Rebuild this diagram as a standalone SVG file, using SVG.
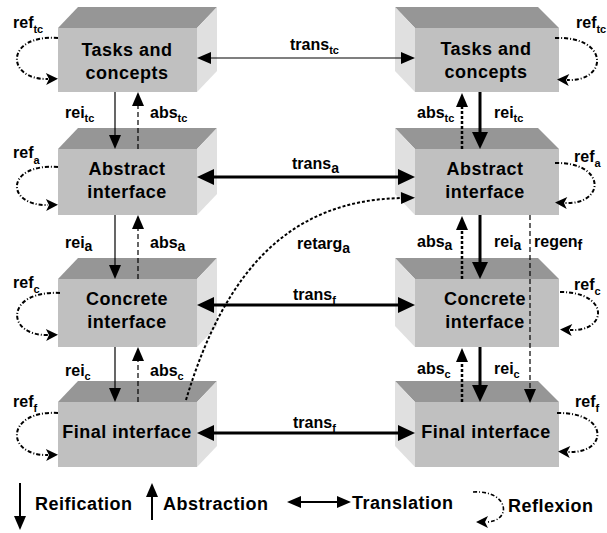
<svg xmlns="http://www.w3.org/2000/svg" width="607" height="533" viewBox="0 0 607 533">
<style>
.front{fill:#c0c0c0}
.top{fill:#969696}
.side{fill:#e0e0e0}
.bt{font-family:"Liberation Sans",Arial,sans-serif;font-weight:bold;font-size:18px;letter-spacing:0.5px;fill:#000;text-anchor:middle}
.lg{font-family:"Liberation Sans",Arial,sans-serif;font-weight:bold;font-size:18px;letter-spacing:0.5px;fill:#000}
.lbl{font-family:"Liberation Sans",Arial,sans-serif;font-weight:bold;font-size:16px;fill:#000}
.sub{font-size:11px}
.subl{font-size:14px}
.thin{fill:none;stroke:#000;stroke-width:1.2}
.thick{fill:none;stroke:#000;stroke-width:3}
.dash{fill:none;stroke:#000;stroke-width:1.2;stroke-dasharray:5,3}
.dot{fill:none;stroke:#000;stroke-width:2.5;stroke-dasharray:3,2}
.loop{fill:none;stroke:#000;stroke-width:2;stroke-dasharray:4,2,1,2}
.lgl{fill:none;stroke:#000;stroke-width:2}
</style>
<defs>
<marker id="ah" markerUnits="userSpaceOnUse" markerWidth="14" markerHeight="12" refX="1" refY="6" orient="auto-start-reverse" overflow="visible"><path d="M0,0 L14,6 L0,12 Z" fill="#000"/></marker>
<marker id="ahb" markerUnits="userSpaceOnUse" markerWidth="17" markerHeight="16" refX="1" refY="8" orient="auto-start-reverse" overflow="visible"><path d="M0,0 L17,8 L0,16 Z" fill="#000"/></marker>
<marker id="ahl" markerUnits="userSpaceOnUse" markerWidth="12" markerHeight="12" refX="2" refY="6" orient="auto" overflow="visible"><path d="M0,0 L12,6 L0,12 L3,6 Z" fill="#000"/></marker>
</defs>

<g id="left-tc">
<path class="top" d="M58,28 L78,7 L217,7 L197,28 Z"/>
<path class="side" d="M197,28 L217,7 L217,71 L197,92 Z"/>
<rect class="front" x="58" y="28" width="139" height="64"/>
<text class="bt" x="127" y="56">Tasks and</text>
<text class="bt" x="127" y="79">concepts</text>
</g>
<g id="right-tc">
<path class="top" d="M415,28 L395,7 L538,7 L559,28 Z"/>
<path class="side" d="M395,7 L415,28 L415,92 L395,71 Z"/>
<rect class="front" x="415" y="28" width="144" height="64"/>
<text class="bt" x="486" y="55">Tasks and</text>
<text class="bt" x="486" y="78">concepts</text>
</g>
<g id="left-a">
<path class="top" d="M58,149 L78,128 L217,128 L197,149 Z"/>
<path class="side" d="M197,149 L217,128 L217,194 L197,215 Z"/>
<rect class="front" x="58" y="149" width="139" height="66"/>
<text class="bt" x="127" y="175">Abstract</text>
<text class="bt" x="127" y="198">interface</text>
</g>
<g id="right-a">
<path class="top" d="M415,149 L395,128 L538,128 L559,149 Z"/>
<path class="side" d="M395,128 L415,149 L415,215 L395,194 Z"/>
<rect class="front" x="415" y="149" width="144" height="66"/>
<text class="bt" x="485" y="175">Abstract</text>
<text class="bt" x="485" y="198">interface</text>
</g>
<g id="left-c">
<path class="top" d="M58,279 L78,258 L217,258 L197,279 Z"/>
<path class="side" d="M197,279 L217,258 L217,326 L197,347 Z"/>
<rect class="front" x="58" y="279" width="139" height="68"/>
<text class="bt" x="127" y="305">Concrete</text>
<text class="bt" x="127" y="328">interface</text>
</g>
<g id="right-c">
<path class="top" d="M415,279 L395,258 L538,258 L559,279 Z"/>
<path class="side" d="M395,258 L415,279 L415,347 L395,326 Z"/>
<rect class="front" x="415" y="279" width="144" height="68"/>
<text class="bt" x="485" y="305">Concrete</text>
<text class="bt" x="485" y="328">interface</text>
</g>
<g id="left-f">
<path class="top" d="M58,402 L78,381 L217,381 L197,402 Z"/>
<path class="side" d="M197,402 L217,381 L217,446 L197,467 Z"/>
<rect class="front" x="58" y="402" width="139" height="65"/>
<text class="bt" x="127" y="438">Final interface</text>
</g>
<g id="right-f">
<path class="top" d="M415,402 L395,381 L538,381 L559,402 Z"/>
<path class="side" d="M395,381 L415,402 L415,467 L395,446 Z"/>
<rect class="front" x="415" y="402" width="144" height="65"/>
<text class="bt" x="486" y="438">Final interface</text>
</g>

<g id="connectors">
<path class="thin" d="M115,92 V136" marker-end="url(#ah)"/>
<path class="dash" d="M138,149 V105" marker-end="url(#ah)"/>
<path class="thin" d="M115,215 V266" marker-end="url(#ah)"/>
<path class="dash" d="M138,279 V228" marker-end="url(#ah)"/>
<path class="thin" d="M115,347 V389" marker-end="url(#ah)"/>
<path class="dash" d="M138,402 V360" marker-end="url(#ah)"/>
<path class="dot" d="M462,149 V106" marker-end="url(#ah)"/>
<path class="thick" d="M480,92 V133" marker-end="url(#ahb)"/>
<path class="dot" d="M462,279 V229" marker-end="url(#ah)"/>
<path class="thick" d="M480,215 V263" marker-end="url(#ahb)"/>
<path class="dot" d="M462,402 V361" marker-end="url(#ah)"/>
<path class="thick" d="M480,347 V386" marker-end="url(#ahb)"/>
<path class="dash" d="M530,215 V390" marker-end="url(#ah)"/>
<path class="thin" d="M210,58 H402" marker-start="url(#ah)" marker-end="url(#ah)"/>
<path class="thick" d="M213,177 H399" marker-start="url(#ahb)" marker-end="url(#ahb)"/>
<path class="thick" d="M213,305 H399" marker-start="url(#ahb)" marker-end="url(#ahb)"/>
<path class="thick" d="M213,433 H399" marker-start="url(#ahb)" marker-end="url(#ahb)"/>
<path class="dot" style="stroke-width:2" d="M186,400 C225,270 290,200 402,198" marker-end="url(#ah)"/>
<path class="loop" d="M58,38 C5,34 5,80 48,79" marker-end="url(#ahl)"/>
<path class="loop" d="M555,38 C610,36 608,82 567,80" marker-end="url(#ahl)"/>
<path class="loop" d="M58,167 C5,163 5,206 48,205" marker-end="url(#ahl)"/>
<path class="loop" d="M555,163 C607,162 605,205 565,203" marker-end="url(#ahl)"/>
<path class="loop" d="M60,293 C5,290 5,336 48,335" marker-end="url(#ahl)"/>
<path class="loop" d="M560,292 C610,292 608,332 570,330" marker-end="url(#ahl)"/>
<path class="loop" d="M58,413 C5,410 5,456 48,455" marker-end="url(#ahl)"/>
<path class="loop" d="M557,413 C610,412 608,454 568,452" marker-end="url(#ahl)"/>
</g>

<g id="labels">
<text class="lbl" x="13" y="28">ref<tspan class="sub" dy="5">tc</tspan></text>
<text class="lbl" x="576" y="28">ref<tspan class="sub" dy="5">tc</tspan></text>
<text class="lbl" x="13" y="158">ref<tspan class="sub" dy="6">a</tspan></text>
<text class="lbl" x="574" y="162">ref<tspan class="sub" dy="5">a</tspan></text>
<text class="lbl" x="13" y="288">ref<tspan class="sub" dy="5">c</tspan></text>
<text class="lbl" x="574" y="290">ref<tspan class="sub" dy="5">c</tspan></text>
<text class="lbl" x="13" y="407">ref<tspan class="sub" dy="5">f</tspan></text>
<text class="lbl" x="575" y="407">ref<tspan class="sub" dy="5">f</tspan></text>

<text class="lbl" x="65" y="118">rei<tspan class="sub" dy="4">tc</tspan></text>
<text class="lbl" x="150" y="118">abs<tspan class="sub" dy="4">tc</tspan></text>
<text class="lbl" x="65" y="248">rei<tspan class="subl" dy="3">a</tspan></text>
<text class="lbl" x="150" y="248">abs<tspan class="subl" dy="3">a</tspan></text>
<text class="lbl" x="65" y="376">rei<tspan class="sub" dy="4">c</tspan></text>
<text class="lbl" x="150" y="376">abs<tspan class="sub" dy="4">c</tspan></text>

<text class="lbl" x="417" y="118">abs<tspan class="sub" dy="4">tc</tspan></text>
<text class="lbl" x="494" y="118">rei<tspan class="sub" dy="4">tc</tspan></text>
<text class="lbl" x="417" y="247">abs<tspan class="subl" dy="3">a</tspan></text>
<text class="lbl" x="494" y="247">rei<tspan class="subl" dy="3">a</tspan></text>
<text class="lbl" x="534" y="247">regen<tspan class="subl" dy="3">f</tspan></text>
<text class="lbl" x="417" y="374">abs<tspan class="sub" dy="4">c</tspan></text>
<text class="lbl" x="494" y="374">rei<tspan class="sub" dy="4">c</tspan></text>

<text class="lbl" x="290" y="50">trans<tspan class="sub" dy="4">tc</tspan></text>
<text class="lbl" x="292" y="169">trans<tspan class="subl" dy="4">a</tspan></text>
<text class="lbl" x="297" y="249">retarg<tspan class="subl" dy="4">a</tspan></text>
<text class="lbl" x="293" y="300">trans<tspan class="sub" dy="4">f</tspan></text>
<text class="lbl" x="293" y="428">trans<tspan class="sub" dy="4">f</tspan></text>
</g>

<g id="legend">
<path class="lgl" d="M20,483 V517" marker-end="url(#ah)"/>
<text class="lg" x="35" y="510">Reification</text>
<path class="lgl" d="M152,520 V496" marker-end="url(#ah)"/>
<text class="lg" x="163" y="510">Abstraction</text>
<path class="lgl" d="M300,502 H338" marker-start="url(#ah)" marker-end="url(#ah)"/>
<text class="lg" x="352" y="509">Translation</text>
<path class="loop" style="stroke-width:1.6" d="M473,492 C510,490 512,522 486,522" marker-end="url(#ahl)"/>
<text class="lg" x="508" y="512">Reflexion</text>
</g>
</svg>
